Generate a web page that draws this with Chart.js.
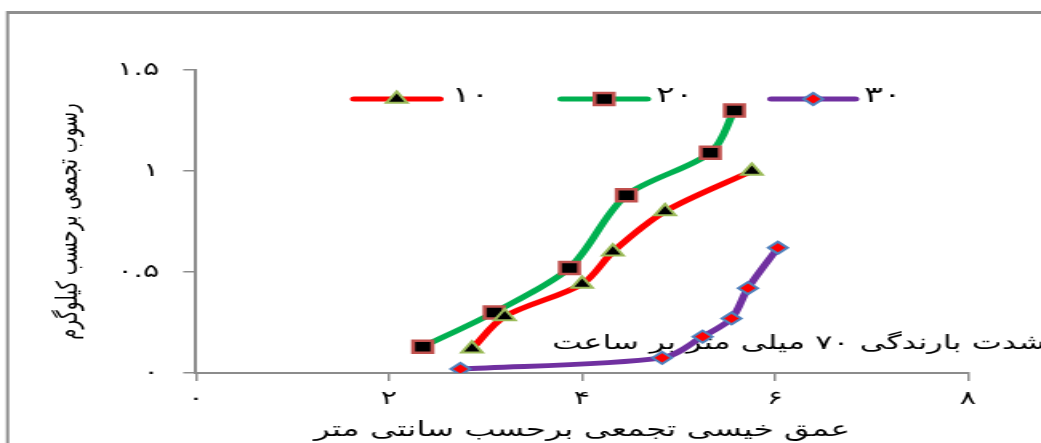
<!DOCTYPE html>
<html lang="fa">
<head>
<meta charset="utf-8">
<title>رسوب تجمعی و عمق خیسی</title>
<script src="https://cdn.jsdelivr.net/npm/chart.js@4.4.1/dist/chart.umd.min.js"></script>
<style>
    html, body { margin: 0; padding: 0; background: #fff; overflow: hidden; }
    /* the original figure is stretched sideways, so the chart is drawn narrow and widened */
    #wrap { position: absolute; left: 0; top: 0; width: 650px; height: 443px; transform: scaleX(1.6015); transform-origin: 0 0; }
</style>
</head>
<body>
<div id="wrap"><canvas id="chart"></canvas></div>
<script>
// داده ها
const seriesNames = ['۱۰', '۲۰', '۳۰'];
const depth10 = [2.86, 3.20, 4.00, 4.32, 4.86, 5.76];
const sediment10 = [0.12, 0.28, 0.44, 0.60, 0.80, 1.00];
const depth20 = [2.35, 3.09, 3.87, 4.46, 5.33, 5.58];
const sediment20 = [0.13, 0.30, 0.52, 0.88, 1.09, 1.30];
const depth30 = [2.74, 4.83, 5.25, 5.55, 5.72, 6.03];
const sediment30 = [0.02, 0.075, 0.18, 0.27, 0.42, 0.62];
const xTickLabels = ['۰', '۲', '۴', '۶', '۸'];
const yTickLabels = ['۰', '۰.۵', '۱', '۱.۵'];
const xTitle = 'عمق خیسی تجمعی برحسب سانتی متر';
const yTitle = 'رسوب تجمعی برحسب کیلوگرم';
const noteText = 'شدت بارندگی ۷۰ میلی متر بر ساعت';

const fontFamily = '"DejaVu Sans", sans-serif';
const axisGray = '#8c8c8c';
const padLeft = 31;

function toPoints(xs, ys) {
    return xs.map((x, i) => ({ x: x, y: ys[i] }));
}

// رسم نشانگر برای راهنما
function drawMarker(c, style, x, y, r, fill, stroke, bw) {
    c.save();
    c.beginPath();
    if (style === 'rect') {
        const s = r * Math.SQRT1_2;
        c.rect(x - s, y - s, 2 * s, 2 * s);
    } else if (style === 'triangle') {
        const a = 2 * Math.PI / 3;
        c.moveTo(x, y - r);
        c.lineTo(x + r * Math.sin(a), y - r * Math.cos(a));
        c.lineTo(x + r * Math.sin(2 * a), y - r * Math.cos(2 * a));
        c.closePath();
    } else {
        c.moveTo(x - r, y);
        c.lineTo(x, y - r);
        c.lineTo(x + r, y);
        c.lineTo(x, y + r);
        c.closePath();
    }
    c.fillStyle = fill;
    c.fill();
    c.lineWidth = bw;
    c.strokeStyle = stroke;
    c.stroke();
    c.restore();
}

// قاب خاکستری
const framePlugin = {
    id: 'frame',
    beforeDraw(chart) {
        const c = chart.ctx;
        c.save();
        c.strokeStyle = '#8f8f8f';
        c.lineWidth = 3;
        c.beginPath();
        c.moveTo(4, 12.5);
        c.lineTo(chart.width + 10, 12.5);
        c.stroke();
        c.lineWidth = 2;
        c.beginPath();
        c.moveTo(4.7, 11);
        c.lineTo(4.7, chart.height + 10);
        c.stroke();
        c.restore();
    }
};

// متن شدت بارندگی داخل نمودار
const notePlugin = {
    id: 'note',
    beforeDatasetsDraw(chart) {
        const c = chart.ctx;
        c.save();
        c.fillStyle = '#000';
        c.font = '20px ' + fontFamily;
        c.textAlign = 'left';
        c.textBaseline = 'middle';
        c.fillText(noteText, 344.7, 344);
        c.restore();
    }
};

// راهنما با خط و نشانگر
const legendSlots = [
    { x1: 221, x2: 274.5, tx: 282 },
    { x1: 350.5, x2: 404, tx: 409.5 },
    { x1: 481.5, x2: 534, tx: 539.5 }
];
const legendY = 99;
const lineLegendPlugin = {
    id: 'lineLegend',
    afterDraw(chart) {
        const c = chart.ctx;
        chart.data.datasets.forEach((ds, i) => {
            const s = legendSlots[i];
            c.save();
            c.lineCap = 'round';
            c.lineWidth = 5;
            c.strokeStyle = ds.borderColor;
            c.beginPath();
            c.moveTo(s.x1, legendY);
            c.lineTo(s.x2, legendY);
            c.stroke();
            drawMarker(c, ds.pointStyle, (s.x1 + s.x2) / 2, legendY, ds.pointRadius,
                ds.pointBackgroundColor, ds.pointBorderColor, ds.pointBorderWidth);
            c.fillStyle = '#000';
            c.font = '22px ' + fontFamily;
            c.textAlign = 'left';
            c.textBaseline = 'middle';
            c.fillText(ds.label, s.tx, legendY - 3);
            c.restore();
        });
    }
};

const chart = new Chart(document.getElementById('chart'), {
    type: 'line',
    data: {
        datasets: [{
            label: seriesNames[0],
            data: toPoints(depth10, sediment10),
            borderColor: '#ff0000',
            borderWidth: 5,
            pointStyle: 'triangle',
            pointRadius: 7.5,
            pointHoverRadius: 7.5,
            pointBackgroundColor: '#000000',
            pointBorderColor: '#9bbb59',
            pointBorderWidth: 2,
            tension: 0.3
        }, {
            label: seriesNames[1],
            data: toPoints(depth20, sediment20),
            borderColor: '#00b050',
            borderWidth: 5,
            pointStyle: 'rect',
            pointRadius: 8.5,
            pointHoverRadius: 8.5,
            pointBackgroundColor: '#000000',
            pointBorderColor: '#c0504d',
            pointBorderWidth: 2.5,
            tension: 0.3
        }, {
            label: seriesNames[2],
            data: toPoints(depth30, sediment30),
            borderColor: '#7030a0',
            borderWidth: 5,
            pointStyle: 'rectRot',
            pointRadius: 6,
            pointHoverRadius: 6,
            pointBackgroundColor: '#ff0000',
            pointBorderColor: '#4f81bd',
            pointBorderWidth: 2,
            tension: 0.3
        }]
    },
    options: {
        responsive: true,
        maintainAspectRatio: false,
        animation: false,
        events: [],
        layout: { padding: { left: padLeft, right: 45.6, top: 70, bottom: 0 } },
        plugins: {
            legend: { display: false },
            tooltip: { enabled: false }
        },
        scales: {
            x: {
                type: 'linear',
                min: 0,
                max: 8,
                ticks: {
                    stepSize: 2,
                    padding: 7,
                    color: '#000',
                    font: { family: fontFamily, size: 19 },
                    callback: v => xTickLabels[Math.round(v / 2)]
                },
                grid: { drawOnChartArea: false, tickLength: 8, color: axisGray, lineWidth: 1.5 },
                border: { color: axisGray, width: 2 },
                title: {
                    display: true,
                    text: xTitle,
                    color: '#000',
                    font: { family: fontFamily, size: 20.5 },
                    padding: { top: 0, bottom: 0 }
                },
                afterFit(scale) { scale.height = 70; }
            },
            y: {
                min: 0,
                max: 1.5,
                ticks: {
                    stepSize: 0.5,
                    padding: 15,
                    color: '#000',
                    font: { family: fontFamily, size: 19 },
                    callback: v => yTickLabels[Math.round(v / 0.5)]
                },
                grid: { drawOnChartArea: false, tickLength: 8, color: axisGray, lineWidth: 1.5 },
                border: { color: axisGray, width: 2 },
                title: {
                    display: true,
                    text: yTitle,
                    color: '#000',
                    font: { family: fontFamily, size: 18 },
                    padding: { top: 2, bottom: 0 }
                },
                afterFit(scale) { scale.width = 122.4 - padLeft; }
            }
        }
    },
    plugins: [framePlugin, notePlugin, lineLegendPlugin]
});
</script>
</body>
</html>
